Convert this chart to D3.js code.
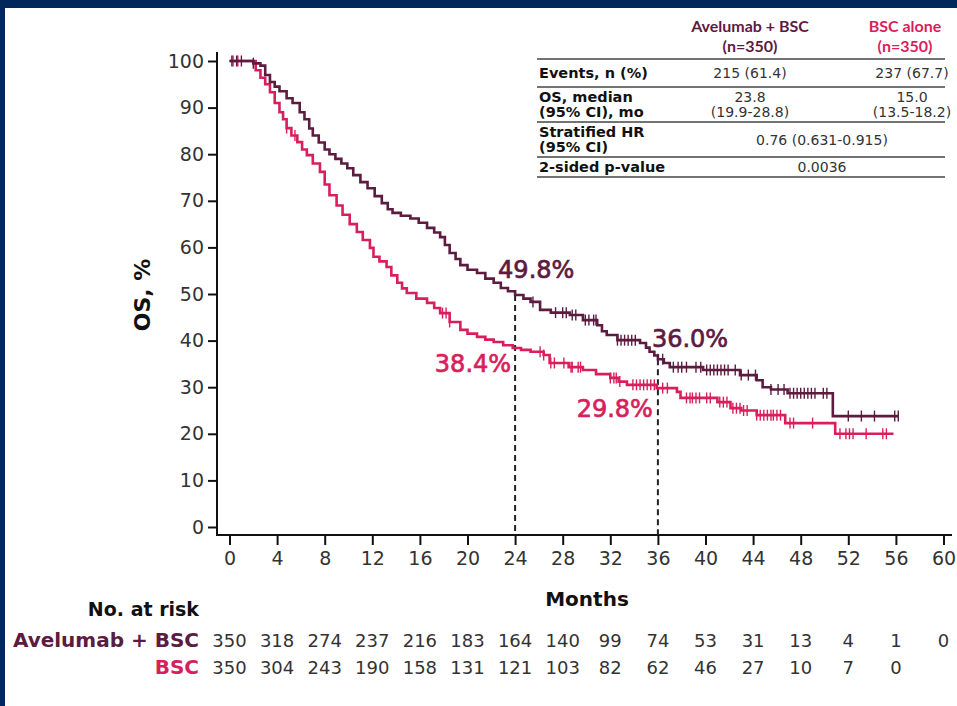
<!DOCTYPE html>
<html>
<head>
<meta charset="utf-8">
<script src="https://cdn.jsdelivr.net/npm/d3@7"></script>
<style>
  html, body { margin: 0; padding: 0; background: #ffffff; }
  svg { display: block; font-family: "DejaVu Sans", sans-serif; }
</style>
</head>
<body>
<svg id="chart" width="957" height="706"></svg>
<script>
// ---------------- DATA ----------------
const monthTicks = [0, 4, 8, 12, 16, 20, 24, 28, 32, 36, 40, 44, 48, 52, 56, 60];
const osTicks = [0, 10, 20, 30, 40, 50, 60, 70, 80, 90, 100];

const seriesNames = ["Avelumab + BSC", "BSC"];

const aveTimes = [0, 1.0, 2.0, 2.6, 3.0, 3.4, 3.8, 4.2, 4.8, 5.3, 5.9, 6.3, 6.7, 7.0, 7.5, 8.0, 8.4, 8.9, 9.4, 9.9,
  10.4, 11.0, 11.6, 12.2, 12.8, 13.3, 13.7, 14.4, 15.2, 15.9, 16.6, 17.2, 17.7, 18.1, 18.5, 19.0, 19.4, 20.0,
  20.8, 21.5, 22.2, 22.8, 23.4, 24.0, 24.7, 25.3, 26.1, 27.0, 28.6, 29.7, 30.9, 31.3, 31.7, 32.6, 34.5, 35.0,
  35.3, 35.7, 36.0, 36.5, 37.0, 39.8, 42.9, 44.3, 44.8, 45.5, 46.9, 50.7, 56.2];
const aveSurv = [100, 100, 99.5, 99, 97, 95.5, 94.5, 93.5, 92, 91, 89, 87.5, 85.5, 84, 82.5, 81, 80, 79, 78, 77,
  75.5, 74, 72.7, 71, 69.5, 68.2, 67.4, 66.8, 66.2, 65.3, 64.2, 63.2, 62.2, 60.5, 58.8, 57.5, 56.2, 55.2,
  54.5, 53.3, 52.4, 51.3, 50.6, 49.8, 49, 48.3, 46.6, 46.0, 45.5, 44.4, 43.3, 42.0, 41.2, 40.1, 39.5, 38.5,
  37.6, 36.8, 36.0, 35.2, 34.3, 33.7, 32.6, 31.5, 30.0, 29.5, 28.7, 23.8, 23.8];

const bscTimes = [0, 1.7, 2.2, 2.6, 3.0, 3.4, 3.8, 4.2, 4.5, 4.8, 5.2, 5.7, 6.1, 6.5, 7.0, 7.6, 8.0, 8.4, 9.0, 9.5,
  10.1, 10.7, 11.2, 11.8, 12.1, 12.6, 13.2, 13.6, 14.1, 14.5, 14.9, 15.7, 16.6, 17.2, 17.7, 18.5, 19.4, 20.0,
  20.8, 21.5, 22.2, 23.0, 23.8, 24.5, 25.3, 26.4, 26.9, 28.5, 29.7, 30.8, 32.0, 32.7, 33.4, 35.9, 37.6, 37.9,
  41.0, 42.1, 43.0, 44.3, 46.7, 50.9, 55.8];
const bscSurv = [100, 100, 98, 96.4, 95, 93.3, 91, 89, 87.5, 85.6, 84, 82.6, 81, 79.8, 78, 76.2, 73.5, 71.2, 69, 67,
  65, 63.3, 61.6, 59.9, 58, 57, 55.8, 54, 52.4, 51.2, 50.2, 49, 48.1, 47, 45.9, 44, 42.3, 41.5,
  40.8, 40.2, 39.7, 39.0, 38.4, 38.0, 37.6, 36.9, 35.2, 34.3, 33.7, 32.8, 32.0, 31.2, 30.5, 29.8, 29.0, 27.7,
  26.8, 25.5, 25.0, 24.0, 22.3, 20.0, 20.0];

const aveCensor = [0.2, 0.6, 1.0, 2.0, 25.5, 27.4, 28.0, 28.3, 28.8, 29.1, 29.9, 30.2, 30.6, 30.8, 32.6, 32.9, 33.2,
  33.5, 33.8, 34.1, 36.0, 36.4, 37.3, 37.7, 38.0, 38.4, 39.2, 39.6, 40.1, 40.4, 40.7, 41.0, 41.3, 41.6, 41.9,
  42.5, 43.0, 43.6, 44.2, 45.5, 46.1, 46.6, 47.1, 47.4, 47.7, 48.0, 48.3, 48.6, 48.9, 49.2, 49.9, 50.2, 52.0,
  53.1, 54.2, 55.9, 56.2];
const bscCensor = [0.3, 0.7, 4.8, 5.5, 17.9, 18.2, 18.5, 26.1, 26.4, 27.0, 27.3, 28.1, 28.7, 28.8, 29.3, 29.5,
  32.0, 32.3, 32.5, 32.8, 33.9, 34.2, 34.5, 34.8, 35.1, 35.4, 35.7, 36.4, 36.8, 38.4, 38.7, 38.9, 39.2, 39.5,
  40.1, 40.4, 41.2, 41.5, 41.8, 42.3, 42.6, 42.9, 43.2, 43.5, 44.3, 44.6, 44.9, 45.2, 45.5, 45.7, 46.0, 46.3,
  47.1, 47.4, 49.0, 51.3, 51.8, 52.1, 52.4, 53.5, 54.9, 55.2];

const aveRisk = [350, 318, 274, 237, 216, 183, 164, 140, 99, 74, 53, 31, 13, 4, 1, 0];
const bscRisk = [350, 304, 243, 190, 158, 131, 121, 103, 82, 62, 46, 27, 10, 7, 0];

const landmarkMonths = [24, 36];
const aveLandmark = ["49.8%", "36.0%"];
const bscLandmark = ["38.4%", "29.8%"];

const tableHeaders = [["Avelumab + BSC", "(n=350)"], ["BSC alone", "(n=350)"]];
const tableRowLabels = [["Events, n (%)"], ["OS, median", "(95% CI), mo"], ["Stratified HR", "(95% CI)"], ["2-sided p-value"]];
const tableAve = [["215 (61.4)"], ["23.8", "(19.9-28.8)"]];
const tableBsc = [["237 (67.7)"], ["15.0", "(13.5-18.2)"]];
const tableShared = [["0.76 (0.631-0.915)"], ["0.0036"]];

// ---------------- STYLE ----------------
const C_AVE = "#5c1b3f";
const C_BSC = "#d81f5c";
const NAVY = "#00285a";
const TXT = "#333333";

const svg = d3.select("#chart");

// frame
svg.append("rect").attr("x", 0).attr("y", 0).attr("width", 957).attr("height", 706).attr("fill", NAVY);
svg.append("rect").attr("x", 5).attr("y", 8).attr("width", 952).attr("height", 698).attr("fill", "#ffffff");

const x = d3.scaleLinear().domain([0, 60]).range([229.5, 943.5]);
const y = d3.scaleLinear().domain([0, 100]).range([527, 61]);

const axisX0 = 217, axisY0 = 535;

// y axis
const gy = svg.append("g").attr("transform", `translate(${axisX0},0)`)
  .call(d3.axisLeft(y).tickValues(osTicks).tickSize(9).tickPadding(4));
gy.select(".domain").remove();
gy.selectAll(".tick line").attr("stroke", "#111").attr("stroke-width", 2);
gy.selectAll(".tick text").attr("font-size", 19).attr("fill", TXT).attr("font-family", "DejaVu Sans, sans-serif");
svg.append("line").attr("x1", axisX0).attr("x2", axisX0).attr("y1", 52).attr("y2", axisY0 + 1)
  .attr("stroke", "#111").attr("stroke-width", 2);

// x axis
const gx = svg.append("g").attr("transform", `translate(0,${axisY0})`)
  .call(d3.axisBottom(x).tickValues(monthTicks).tickSize(10).tickPadding(7));
gx.select(".domain").remove();
gx.selectAll(".tick line").attr("stroke", "#111").attr("stroke-width", 2);
gx.selectAll(".tick text").attr("font-size", 19).attr("fill", TXT).attr("font-family", "DejaVu Sans, sans-serif");
svg.append("line").attr("x1", axisX0).attr("x2", 952).attr("y1", axisY0).attr("y2", axisY0)
  .attr("stroke", "#111").attr("stroke-width", 2);

// axis titles
svg.append("text").attr("transform", `translate(150,295) rotate(-90)`).attr("text-anchor", "middle")
  .attr("font-size", 22).attr("font-weight", "bold").attr("fill", "#111").text("OS, %");
svg.append("text").attr("x", 587).attr("y", 606).attr("text-anchor", "middle")
  .attr("font-size", 20).attr("font-weight", "bold").attr("fill", "#111").text("Months");

// landmark dashed lines
function stepVal(times, surv, t) {
  let v = surv[0];
  for (let i = 0; i < times.length; i++) { if (times[i] <= t) v = surv[i]; else break; }
  return v;
}
landmarkMonths.forEach(m => {
  svg.append("line").attr("x1", x(m)).attr("x2", x(m))
    .attr("y1", y(stepVal(aveTimes, aveSurv, m))).attr("y2", axisY0)
    .attr("stroke", "#222").attr("stroke-width", 2).attr("stroke-dasharray", "6,4");
});

// KM curves
const line = d3.line().x(d => x(d[0])).y(d => y(d[1])).curve(d3.curveStepAfter);
const series = [
  { times: aveTimes, surv: aveSurv, censor: aveCensor, color: C_AVE },
  { times: bscTimes, surv: bscSurv, censor: bscCensor, color: C_BSC }
];
series.slice().reverse().forEach(s => {
  const pts = s.times.map((t, i) => [t, s.surv[i]]);
  svg.append("path").attr("d", line(pts)).attr("fill", "none")
    .attr("stroke", s.color).attr("stroke-width", 2.6).attr("stroke-linejoin", "miter");
  svg.append("g").selectAll("line").data(s.censor).join("line")
    .attr("x1", d => x(d)).attr("x2", d => x(d))
    .attr("y1", d => y(stepVal(s.times, s.surv, d)) - 5.5)
    .attr("y2", d => y(stepVal(s.times, s.surv, d)) + 5.5)
    .attr("stroke", s.color).attr("stroke-width", 1.4);
});

// landmark labels
function lmLabel(txt, xx, yy, anchor, color) {
  svg.append("text").attr("x", xx).attr("y", yy).attr("text-anchor", anchor)
    .attr("font-size", 24).attr("fill", color).attr("stroke", color).attr("stroke-width", 0.7)
    .text(txt);
}
lmLabel(aveLandmark[0], x(24) - 17, 278, "start", C_AVE);
lmLabel(aveLandmark[1], x(36) - 6, 347, "start", C_AVE);
lmLabel(bscLandmark[0], x(24) - 4, 372, "end", C_BSC);
lmLabel(bscLandmark[1], x(36) - 5, 417, "end", C_BSC);

// risk table
svg.append("text").attr("x", 199).attr("y", 616).attr("text-anchor", "end").attr("font-size", 19)
  .attr("font-weight", "bold").attr("fill", "#111").text("No. at risk");
svg.append("text").attr("x", 199).attr("y", 647).attr("text-anchor", "end").attr("font-size", 20)
  .attr("font-weight", "bold").attr("fill", C_AVE).text(seriesNames[0]);
svg.append("text").attr("x", 199).attr("y", 674).attr("text-anchor", "end").attr("font-size", 20)
  .attr("font-weight", "bold").attr("fill", C_BSC).text(seriesNames[1]);
svg.append("g").selectAll("text").data(aveRisk).join("text")
  .attr("x", (d, i) => x(monthTicks[i])).attr("y", 647).attr("text-anchor", "middle")
  .attr("font-size", 18).attr("fill", TXT).text(d => d);
svg.append("g").selectAll("text").data(bscRisk).join("text")
  .attr("x", (d, i) => x(monthTicks[i])).attr("y", 674).attr("text-anchor", "middle")
  .attr("font-size", 18).attr("fill", TXT).text(d => d);

// summary table
const tbl = svg.append("g");
const col1 = 750, col2 = 905, colShared = 822, labX = 539;
const hdrColors = [C_AVE, C_BSC];
[col1, col2].forEach((cx, i) => {
  tableHeaders[i].forEach((t, j) => {
    tbl.append("text").attr("x", cx).attr("y", 32 + j * 19.5).attr("text-anchor", "middle")
      .attr("font-family", "Lato, sans-serif")
      .attr("font-size", 16).attr("font-weight", "bold").attr("fill", hdrColors[i]).text(t);
  });
});
const rules = [59, 87, 122, 157, 177];
rules.forEach(r => tbl.append("line").attr("x1", 537).attr("x2", 945).attr("y1", r).attr("y2", r)
  .attr("stroke", "#444").attr("stroke-width", 1.5));
const rowTop = [59, 87, 122, 157];
const rowBot = [87, 122, 157, 177];
const lineGap = 15.5;
tableRowLabels.forEach((lines, i) => {
  const mid = (rowTop[i] + rowBot[i]) / 2;
  const n = lines.length;
  lines.forEach((t, j) => {
    tbl.append("text").attr("x", labX).attr("y", mid + 5 + (j - (n - 1) / 2) * lineGap)
      .attr("font-size", 14.5).attr("font-weight", "bold").attr("fill", "#111").text(t);
  });
});
function cell(lines, cx, i) {
  const mid = (rowTop[i] + rowBot[i]) / 2;
  const n = lines.length;
  lines.forEach((t, j) => {
    tbl.append("text").attr("x", cx).attr("y", mid + 5 + (j - (n - 1) / 2) * lineGap).attr("text-anchor", "middle")
      .attr("font-size", 14).attr("fill", TXT).text(t);
  });
}
tableAve.forEach((lines, i) => cell(lines, col1, i));
tableBsc.forEach((lines, i) => cell(lines, col2 + 7, i));
tableShared.forEach((lines, i) => cell(lines, colShared, i + 2));
</script>
</body>
</html>
